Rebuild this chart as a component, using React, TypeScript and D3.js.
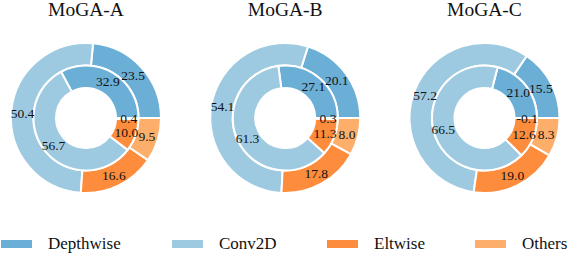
import * as d3 from 'd3';
import { useEffect, useRef } from 'react';

const models = ['MoGA-A', 'MoGA-B', 'MoGA-C'];
const categories = ['Depthwise', 'Conv2D', 'Eltwise', 'Others'];
const colors = ['#6baed6', '#9ecae1', '#fd8d3c', '#fdae6b'];

// outer ring (per model, in category order)
const outerValues = [
  [23.5, 50.4, 16.6, 9.5],
  [20.1, 54.1, 17.8, 8.0],
  [15.5, 57.2, 19.0, 8.3],
];
// inner ring
const innerValues = [
  [32.9, 56.7, 10.0, 0.4],
  [27.1, 61.3, 11.3, 0.3],
  [21.0, 66.5, 12.6, -0.1],
];

const W = 570;
const H = 254;

export default function App() {
  const svgRef = useRef<SVGSVGElement | null>(null);

  useEffect(() => {
    const svg = d3.select(svgRef.current);
    svg.selectAll('*').remove();

    const R = 75;
    const cy = 118;

    const x = d3.scalePoint<string>().domain(models).range([86, 484.5]);

    // matplotlib style: start at 3 o'clock, counterclockwise
    const pie = d3.pie<number>()
      .sort(null)
      .value(d => d)
      .startAngle(Math.PI / 2)
      .endAngle(Math.PI / 2 - 2 * Math.PI);

    const outerArc = d3.arc<d3.PieArcDatum<number>>().innerRadius(R * 0.7).outerRadius(R);
    const innerArc = d3.arc<d3.PieArcDatum<number>>().innerRadius(R * 0.4).outerRadius(R * 0.7);
    const outerLabel = d3.arc<d3.PieArcDatum<number>>().innerRadius(R * 0.85).outerRadius(R * 0.85);
    const innerLabel = d3.arc<d3.PieArcDatum<number>>().innerRadius(R * 0.57).outerRadius(R * 0.57);

    models.forEach((m, mi) => {
      const g = svg.append('g').attr('transform', `translate(${x(m)},${cy})`);

      const rings = [
        { arcs: pie(outerValues[mi]), arc: outerArc, label: outerLabel },
        { arcs: pie(innerValues[mi]), arc: innerArc, label: innerLabel },
      ];

      rings.forEach(ring => {
        g.selectAll(null)
          .data(ring.arcs)
          .enter()
          .append('path')
          .attr('d', ring.arc)
          .attr('fill', (_, i) => colors[i])
          .attr('stroke', '#fff')
          .attr('stroke-width', 2)
          .attr('stroke-linejoin', 'round');
      });

      rings.forEach(ring => {
        g.selectAll(null)
          .data(ring.arcs)
          .enter()
          .append('text')
          .attr('transform', d => `translate(${ring.label.centroid(d)})`)
          .attr('text-anchor', 'middle')
          .attr('dy', '0.35em')
          .attr('font-size', 13.5)
          .attr('fill', '#111')
          .text(d => d.data.toFixed(1));
      });

      svg.append('text')
        .attr('x', x(m)!)
        .attr('y', 16)
        .attr('text-anchor', 'middle')
        .attr('font-size', 19.5)
        .attr('fill', '#111')
        .text(m);
    });

    // legend
    const legendX = [1, 172, 327, 475];
    const lg = svg.append('g');
    categories.forEach((c, i) => {
      lg.append('rect')
        .attr('x', legendX[i])
        .attr('y', 240)
        .attr('width', 31)
        .attr('height', 8)
        .attr('fill', colors[i]);
      lg.append('text')
        .attr('x', legendX[i] + 47)
        .attr('y', 249)
        .attr('font-size', 17)
        .attr('fill', '#111')
        .text(c);
    });
  }, []);

  return (
    <svg
      ref={svgRef}
      width={W}
      height={H}
      style={{
        position: 'absolute',
        left: 0,
        top: 0,
        background: '#fff',
        fontFamily: "'Liberation Serif', 'Times New Roman', serif",
      }}
    />
  );
}
